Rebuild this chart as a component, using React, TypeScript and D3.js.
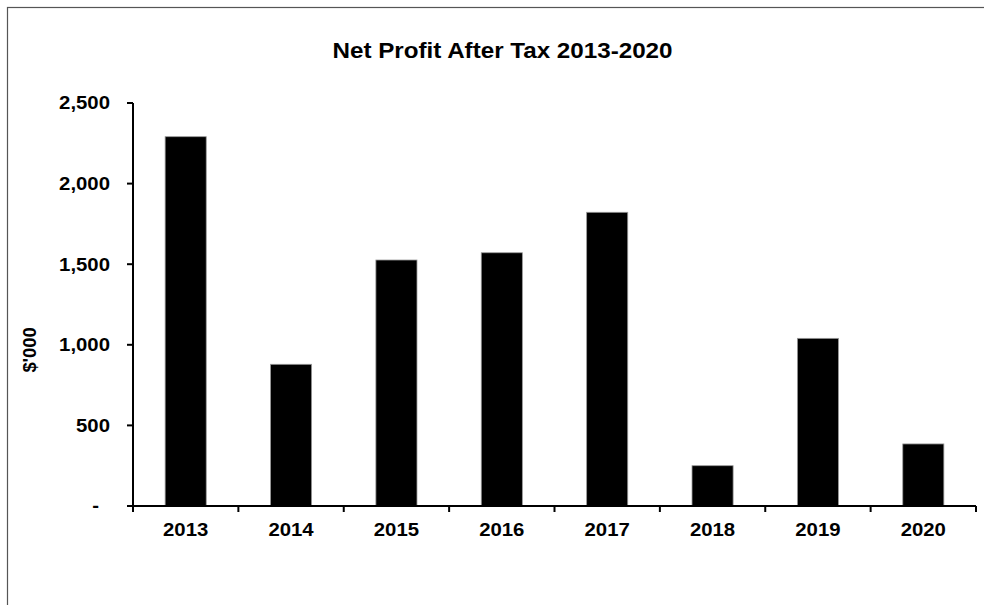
import React, { useEffect, useRef } from 'react';
import * as d3 from 'd3';

const years = ['2013', '2014', '2015', '2016', '2017', '2018', '2019', '2020'];
const netProfit = [2291, 879, 1526, 1571, 1822, 250, 1040, 385];
const yTicks = [0, 500, 1000, 1500, 2000, 2500];

const width = 984;
const height = 605;
const font = '"Liberation Sans", Arial, sans-serif';
const stretch = 1.1;

const App: React.FC = () => {
  const svgRef = useRef<SVGSVGElement>(null);

  useEffect(() => {
    if (!svgRef.current) return;
    const svg = d3.select(svgRef.current);
    svg.selectAll('*').remove();

    const margin = { top: 103, right: 8, bottom: 99, left: 133 };
    const innerWidth = width - margin.left - margin.right;
    const innerHeight = height - margin.top - margin.bottom;

    // Chart area border (runs off the right and bottom edges)
    svg.append('rect')
      .attr('x', 7.5)
      .attr('y', 7.5)
      .attr('width', 1000)
      .attr('height', 620)
      .attr('fill', '#fff')
      .attr('stroke', '#555')
      .attr('stroke-width', 1.2);

    // Title
    svg.append('text')
      .attr('transform', `translate(502.5, 57.5) scale(${stretch}, 1)`)
      .attr('text-anchor', 'middle')
      .style('font-family', font)
      .style('font-weight', 'bold')
      .style('font-size', '22px')
      .style('fill', '#000')
      .text('Net Profit After Tax 2013-2020');

    const g = svg.append('g')
      .attr('transform', `translate(${margin.left},${margin.top})`);

    const xScale = d3.scaleBand<string>()
      .domain(years)
      .range([0, innerWidth])
      .paddingInner(0.61)
      .paddingOuter(0.305);

    const yScale = d3.scaleLinear()
      .domain([0, 2500])
      .range([innerHeight, 0]);

    // Bars
    g.selectAll('.bar')
      .data(years)
      .enter()
      .append('rect')
      .attr('class', 'bar')
      .attr('x', d => xScale(d)!)
      .attr('y', (_, i) => yScale(netProfit[i]))
      .attr('width', xScale.bandwidth())
      .attr('height', (_, i) => innerHeight - yScale(netProfit[i]))
      .attr('fill', '#000')
      .attr('stroke', '#999')
      .attr('stroke-width', 0.8);

    // Y axis
    g.append('line')
      .attr('x1', 0).attr('x2', 0)
      .attr('y1', 0).attr('y2', innerHeight)
      .attr('stroke', '#000').attr('stroke-width', 2);

    yTicks.forEach(t => {
      g.append('line')
        .attr('x1', -6).attr('x2', 0)
        .attr('y1', yScale(t)).attr('y2', yScale(t))
        .attr('stroke', '#000').attr('stroke-width', 2);
      g.append('text')
        .attr('transform', `translate(${t === 0 ? -34 : -23}, ${yScale(t)}) scale(${stretch}, 1)`)
        .attr('text-anchor', 'end')
        .attr('dy', '0.35em')
        .style('font-family', font)
        .style('font-weight', 'bold')
        .style('font-size', '18.5px')
        .style('fill', '#000')
        .text(t === 0 ? '-' : d3.format(',')(t));
    });

    // X axis
    g.append('line')
      .attr('x1', 0).attr('x2', innerWidth)
      .attr('y1', innerHeight).attr('y2', innerHeight)
      .attr('stroke', '#000').attr('stroke-width', 2);

    const step = xScale.step();
    d3.range(years.length + 1).forEach(i => {
      g.append('line')
        .attr('x1', i * step).attr('x2', i * step)
        .attr('y1', innerHeight).attr('y2', innerHeight + 6)
        .attr('stroke', '#000').attr('stroke-width', 2);
    });

    g.selectAll('.year')
      .data(years)
      .enter()
      .append('text')
      .attr('class', 'year')
      .attr('transform', d => `translate(${xScale(d)! + xScale.bandwidth() / 2}, ${innerHeight + 30}) scale(${stretch}, 1)`)
      .attr('text-anchor', 'middle')
      .style('font-family', font)
      .style('font-weight', 'bold')
      .style('font-size', '18.5px')
      .style('fill', '#000')
      .text(d => d);

    // Y axis label
    svg.append('text')
      .attr('transform', 'translate(36, 350) rotate(-90) scale(1.05, 1)')
      .attr('text-anchor', 'middle')
      .style('font-family', font)
      .style('font-weight', 'bold')
      .style('font-size', '17.5px')
      .style('fill', '#000')
      .text("$'000");
  }, []);

  return (
    <div style={{ position: 'absolute', left: 0, top: 0 }}>
      <svg ref={svgRef} width={width} height={height} style={{ display: 'block' }} />
    </div>
  );
};

export default App;
